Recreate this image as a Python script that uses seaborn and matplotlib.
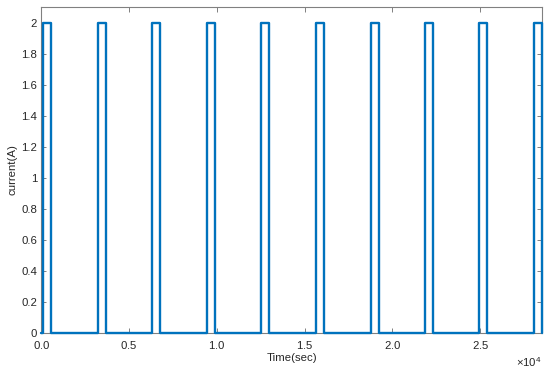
import numpy as np
import pandas as pd
import matplotlib
matplotlib.use("Agg")
import matplotlib.pyplot as plt
import matplotlib.ticker as mticker
import seaborn as sns

# Pulse data (seconds)
rise_times = [97, 3212, 6321, 9436, 12511, 15643, 18758, 21834, 24926, 28058]
fall_times = [552, 3667, 6777, 9892, 12966, 16116, 19214, 22306, 25399, 28500]
high_current = 2.0
low_current = 0.001
t_start = 0
t_end = 28500

x_ticks = [0, 5000, 10000, 15000, 20000, 25000]
y_ticks = [0, 0.2, 0.4, 0.6, 0.8, 1.0, 1.2, 1.4, 1.6, 1.8, 2.0]

# build step series
ts = [t_start]
vs = [low_current]
for r, f in zip(rise_times, fall_times):
    ts += [r, r, f, f]
    vs += [low_current, high_current, high_current, low_current]
df = pd.DataFrame({"t": ts, "i": vs})

sns.set_theme(style="white")
plt.rcParams["font.family"] = ["Liberation Sans", "DejaVu Sans"]
plt.rcParams["mathtext.fontset"] = "custom"
plt.rcParams["mathtext.rm"] = "Liberation Sans"

FS = 8.2

fig = plt.figure(figsize=(5.5, 3.74), dpi=100)
ax = fig.add_axes([0.0751, 0.1104, 0.9099, 0.8709])

sns.lineplot(data=df, x="t", y="i", sort=False, estimator=None,
             color="#0072BD", linewidth=1.7, ax=ax, clip_on=False, zorder=3)

ax.set_xlim(t_start, t_end)
ax.set_ylim(0, 2.105)
ax.set_xticks(x_ticks)
ax.set_yticks(y_ticks)
ax.set_yticklabels(["0", "0.2", "0.4", "0.6", "0.8", "1", "1.2", "1.4", "1.6", "1.8", "2"])

fmt = mticker.ScalarFormatter(useMathText=True)
fmt.set_powerlimits((0, 0))
ax.xaxis.set_major_formatter(fmt)

ax.set_xlabel("Time(sec)", fontsize=FS, color="#262626", labelpad=1.5)
ax.set_ylabel("current(A)", fontsize=FS, color="#262626", labelpad=2.5)

for s in ax.spines.values():
    s.set_visible(True)
    s.set_color("#808080")
    s.set_linewidth(0.8)

ax.tick_params(direction="in", length=3.5, width=0.7, color="#808080",
               labelsize=FS, labelcolor="#262626", top=True, right=True,
               bottom=True, left=True, pad=3)
ax.tick_params(axis="x", pad=4.5)
ax.xaxis.get_offset_text().set_fontsize(FS)
ax.xaxis.get_offset_text().set_color("#262626")

fig.savefig("out.png", dpi=100)
